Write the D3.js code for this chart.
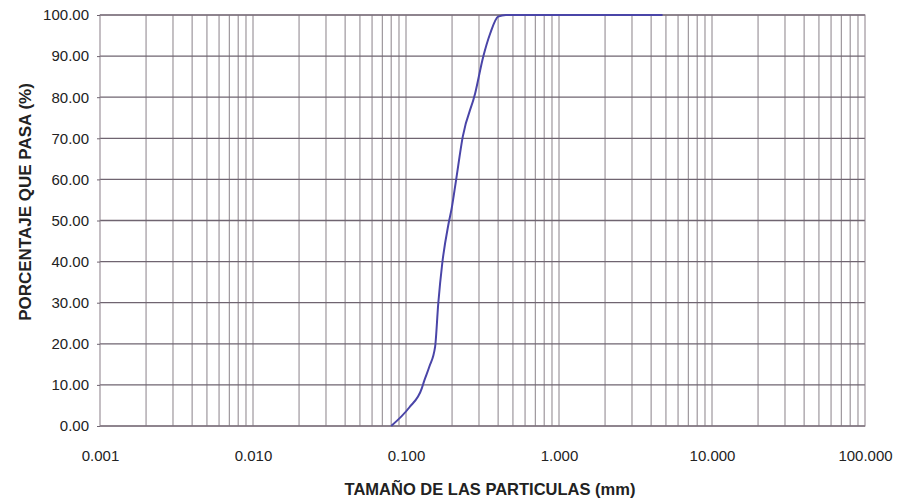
<!DOCTYPE html>
<html>
<head>
<meta charset="utf-8">
<script src="https://cdn.jsdelivr.net/npm/d3@7"></script>
<style>
  body { margin: 0; background: #fff; }
  svg text { font-family: "Liberation Sans", Arial, sans-serif; fill: #222; }
</style>
</head>
<body>
<svg width="905" height="504"></svg>
<script>
// particle size (mm) and percent passing
const sizes = [0.080, 0.105, 0.127, 0.131, 0.142, 0.155, 0.1625, 0.1726, 0.189, 0.199, 0.212, 0.235, 0.283, 0.320, 0.355, 0.400, 0.450, 4.75];
const passing = [0, 4.5, 9.2, 10.8, 14.4, 19.3, 29.8, 39.6, 48.9, 53.0, 59.6, 70.4, 80.9, 89.9, 95.5, 99.6, 100, 100];
const xTicks = [0.001, 0.01, 0.1, 1, 10, 100];
const xTickLabels = ["0.001", "0.010", "0.100", "1.000", "10.000", "100.000"];
const yTicks = [0, 10, 20, 30, 40, 50, 60, 70, 80, 90, 100];

var svg = d3.select("svg"),
  mLeft = 100,
  mRight = 865,
  mTop = 15,
  mBottom = 426;

var xScale = d3.scaleLog().domain([0.001, 100]).range([mLeft, mRight]);
var yScale = d3.scaleLinear().domain([0, 100]).range([mBottom, mTop]);

// vertical grid (log minor ticks)
var minor = xScale.ticks().filter((d) => d > 0.001 && d < 100);
svg.append("g")
  .selectAll("line")
  .data(minor)
  .enter()
  .append("line")
  .attr("x1", (d) => xScale(d))
  .attr("x2", (d) => xScale(d))
  .attr("y1", mTop)
  .attr("y2", mBottom)
  .attr("stroke", "#8a8289")
  .attr("stroke-width", 1);

// horizontal grid
svg.append("g")
  .selectAll("line")
  .data(yTicks)
  .enter()
  .append("line")
  .attr("x1", mLeft)
  .attr("x2", mRight)
  .attr("y1", (d) => yScale(d))
  .attr("y2", (d) => yScale(d))
  .attr("stroke", "#6f6470")
  .attr("stroke-width", 1.3);

// frame
svg.append("rect")
  .attr("x", mLeft)
  .attr("y", mTop)
  .attr("width", mRight - mLeft)
  .attr("height", mBottom - mTop)
  .attr("fill", "none")
  .attr("stroke", "#8a7f88")
  .attr("stroke-width", 1);

// axes
var yAxis = svg.append("g")
  .attr("transform", "translate(" + mLeft + ",0)")
  .call(d3.axisLeft(yScale).tickValues(yTicks).tickFormat(d3.format(".2f")).tickSize(3).tickPadding(8));
yAxis.select(".domain").remove();
yAxis.selectAll("line").attr("stroke", "#6f6470");
yAxis.selectAll("text").style("font-size", "15px").attr("fill", "#222");

var xAxis = svg.append("g")
  .attr("transform", "translate(0," + mBottom + ")")
  .call(d3.axisBottom(xScale).tickValues(xTicks).tickFormat((d, i) => xTickLabels[i]).tickSize(0).tickPadding(24));
xAxis.select(".domain").remove();
xAxis.selectAll("text").style("font-size", "15px").attr("fill", "#222");

// curve
var line = d3.line()
  .x((d, i) => xScale(sizes[i]))
  .y((d) => yScale(d))
  .curve(d3.curveMonotoneX);

svg.append("path")
  .datum(passing)
  .attr("fill", "none")
  .attr("stroke", "#4a45a8")
  .attr("stroke-width", 2)
  .attr("d", line);

// labels
svg.append("text")
  .attr("transform", "translate(31,202) rotate(-90)")
  .attr("text-anchor", "middle")
  .style("font-size", "17px")
  .style("font-weight", "bold")
  .text("PORCENTAJE QUE PASA (%)");

svg.append("text")
  .attr("x", 490)
  .attr("y", 495)
  .attr("text-anchor", "middle")
  .style("font-size", "16.5px")
  .style("font-weight", "bold")
  .text("TAMAÑO DE LAS PARTICULAS (mm)");
</script>
</body>
</html>
